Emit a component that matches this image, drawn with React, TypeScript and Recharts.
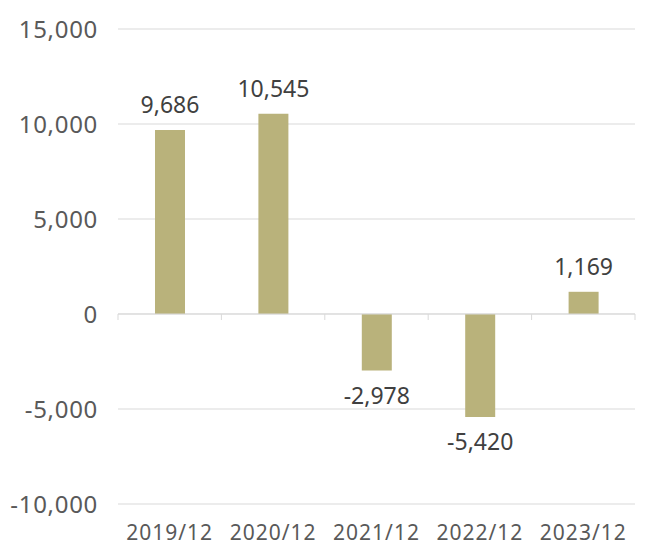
import React from 'react';
import { BarChart, Bar, XAxis, YAxis, CartesianGrid, ReferenceLine, LabelList } from 'recharts';

const periods = ['2019/12', '2020/12', '2021/12', '2022/12', '2023/12'];
const values = [9686, 10545, -2978, -5420, 1169];
const yTicks = [-10000, -5000, 0, 5000, 10000, 15000];

const data = periods.map((period, i) => ({ period, value: values[i] }));

const FONT = '"Noto Sans", sans-serif';
const fmt = (v: number) => v.toLocaleString('en-US');

// zero line with small tick marks at category boundaries
const ZeroLine = (props: any) => {
  const { x1, x2, y1 } = props;
  const n = periods.length;
  const step = (x2 - x1) / n;
  const marks = [];
  for (let i = 0; i <= n; i++) {
    const x = x1 + step * i;
    marks.push(<line key={i} x1={x} x2={x} y1={y1} y2={y1 + 6} stroke="#D9D9D9" strokeWidth={1} />);
  }
  return (
    <g>
      <line x1={x1} x2={x2} y1={y1} y2={y1} stroke="#D9D9D9" strokeWidth={1} />
      {marks}
    </g>
  );
};

export default function App() {
  return (
    <div style={{ position: 'absolute', left: 0, top: 0, background: '#fff' }}>
      <BarChart width={660} height={550} data={data} margin={{ top: 29, right: 25, bottom: 0, left: 0 }}>
        <CartesianGrid vertical={false} stroke="#D9D9D9" />
        <XAxis
          dataKey="period"
          axisLine={false}
          tickLine={false}
          height={46}
          tickMargin={15}
          tick={{ fill: '#595959', fontSize: 21, fontFamily: FONT, letterSpacing: 1 }}
        />
        <YAxis
          domain={[-10000, 15000]}
          ticks={yTicks}
          axisLine={false}
          tickLine={false}
          width={118}
          tickMargin={14}
          tickFormatter={fmt}
          tick={{ fill: '#595959', fontSize: 24, fontFamily: FONT, letterSpacing: 0.7 }}
        />
        <ReferenceLine y={0} shape={ZeroLine} />
        <Bar dataKey="value" fill="#B9B27B" barSize={30} isAnimationActive={false}>
          <LabelList
            dataKey="value"
            position="top"
            offset={17}
            formatter={(v: any) => fmt(Number(v))}
            style={{ fill: '#404040', fontSize: 23, fontFamily: FONT }}
          />
        </Bar>
      </BarChart>
    </div>
  );
}
